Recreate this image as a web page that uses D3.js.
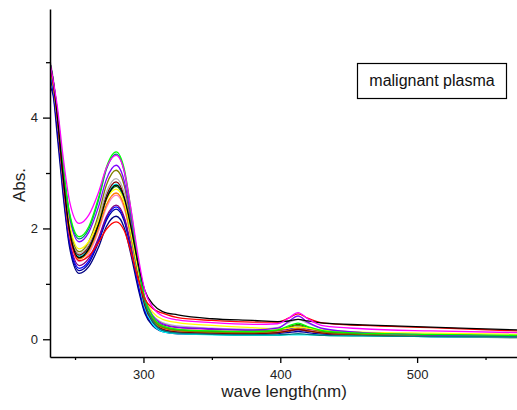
<!DOCTYPE html>
<html>
<head>
<meta charset="utf-8">
<script src="https://cdn.jsdelivr.net/npm/d3@7/dist/d3.min.js"></script>
<style>
  body { margin: 0; background: #fff; }
  svg { display: block; font-family: "Liberation Sans", Arial, sans-serif; }
</style>
</head>
<body>
<div id="chart"></div>
<script>
// sampled wavelengths (nm)
var wavelengths = [232, 234, 237, 241, 246, 253, 260, 267, 273, 280, 286, 291, 296, 301, 307, 314,
                   325, 350, 380, 398, 406, 413, 420, 432, 460, 510, 573];

var lineColors = ["#000080", "#0000a0", "#0000ff", "#800080", "#ff80c0", "#ff8000", "#008000",
                  "#00ffff", "#800000", "#b0b0b0", "#808000", "#ffff00", "#8000ff", "#008080",
                  "#00ff00", "#ff0000", "#000000", "#ff00ff"];

// absorbance, one row per sample (same order as lineColors)
var absorbance = [
  [4.55, 4.40, 3.68, 2.67, 1.66, 1.19, 1.31, 1.65, 2.04, 2.22, 2.01, 1.51, 0.93, 0.47, 0.24, 0.14, 0.10, 0.09, 0.09, 0.12, 0.15, 0.17, 0.15, 0.11, 0.08, 0.06, 0.05],
  [4.70, 4.45, 3.80, 2.76, 1.72, 1.24, 1.37, 1.74, 2.15, 2.35, 2.13, 1.60, 0.99, 0.50, 0.26, 0.15, 0.11, 0.09, 0.08, 0.10, 0.12, 0.14, 0.12, 0.09, 0.07, 0.05, 0.04],
  [4.80, 4.52, 3.89, 2.83, 1.77, 1.28, 1.41, 1.78, 2.19, 2.39, 2.17, 1.64, 1.02, 0.53, 0.29, 0.18, 0.13, 0.11, 0.10, 0.13, 0.18, 0.22, 0.18, 0.12, 0.08, 0.06, 0.05],
  [4.85, 4.57, 3.94, 2.88, 1.82, 1.33, 1.46, 1.82, 2.22, 2.42, 2.20, 1.69, 1.08, 0.61, 0.37, 0.26, 0.21, 0.18, 0.16, 0.16, 0.17, 0.19, 0.17, 0.13, 0.10, 0.08, 0.06],
  [4.90, 4.62, 3.99, 2.94, 1.89, 1.40, 1.54, 1.94, 2.38, 2.60, 2.36, 1.80, 1.14, 0.62, 0.36, 0.24, 0.19, 0.16, 0.14, 0.14, 0.16, 0.18, 0.16, 0.13, 0.10, 0.08, 0.07],
  [4.90, 4.62, 4.00, 2.97, 1.93, 1.45, 1.59, 1.99, 2.43, 2.64, 2.40, 1.81, 1.13, 0.59, 0.32, 0.20, 0.15, 0.12, 0.11, 0.12, 0.15, 0.19, 0.15, 0.11, 0.08, 0.06, 0.05],
  [4.90, 4.62, 4.01, 2.99, 1.96, 1.48, 1.63, 2.06, 2.53, 2.76, 2.51, 1.90, 1.19, 0.63, 0.35, 0.22, 0.17, 0.14, 0.13, 0.16, 0.22, 0.27, 0.22, 0.14, 0.10, 0.08, 0.06],
  [4.85, 4.57, 3.98, 2.97, 1.97, 1.50, 1.66, 2.09, 2.57, 2.80, 2.53, 1.90, 1.15, 0.57, 0.27, 0.14, 0.10, 0.08, 0.07, 0.07, 0.08, 0.08, 0.08, 0.07, 0.06, 0.05, 0.04],
  [4.90, 4.62, 4.02, 3.01, 1.99, 1.52, 1.68, 2.11, 2.60, 2.84, 2.57, 1.94, 1.19, 0.61, 0.31, 0.18, 0.13, 0.11, 0.10, 0.12, 0.15, 0.18, 0.15, 0.11, 0.08, 0.06, 0.05],
  [5.00, 4.72, 4.10, 3.07, 2.03, 1.55, 1.71, 2.16, 2.66, 2.90, 2.64, 2.02, 1.29, 0.72, 0.43, 0.30, 0.24, 0.20, 0.18, 0.21, 0.30, 0.36, 0.29, 0.18, 0.12, 0.06, 0.02],
  [4.90, 4.62, 4.04, 3.04, 2.05, 1.58, 1.76, 2.24, 2.79, 3.05, 2.77, 2.09, 1.30, 0.67, 0.36, 0.22, 0.16, 0.13, 0.12, 0.15, 0.21, 0.25, 0.20, 0.13, 0.09, 0.07, 0.05],
  [4.90, 4.62, 4.05, 3.07, 2.09, 1.63, 1.76, 2.12, 2.52, 2.71, 2.48, 1.91, 1.25, 0.74, 0.48, 0.36, 0.30, 0.25, 0.21, 0.19, 0.20, 0.22, 0.20, 0.16, 0.13, 0.11, 0.09],
  [4.95, 4.67, 4.12, 3.16, 2.21, 1.76, 1.93, 2.38, 2.89, 3.14, 2.85, 2.17, 1.37, 0.74, 0.42, 0.28, 0.22, 0.19, 0.17, 0.20, 0.32, 0.42, 0.31, 0.19, 0.12, 0.08, 0.06],
  [4.95, 4.67, 4.13, 3.19, 2.25, 1.81, 1.99, 2.50, 3.07, 3.34, 3.02, 2.26, 1.37, 0.67, 0.32, 0.16, 0.11, 0.09, 0.08, 0.08, 0.09, 0.10, 0.09, 0.07, 0.06, 0.05, 0.04],
  [4.95, 4.67, 4.14, 3.21, 2.28, 1.85, 2.03, 2.54, 3.11, 3.38, 3.07, 2.31, 1.43, 0.74, 0.40, 0.24, 0.18, 0.15, 0.14, 0.17, 0.24, 0.29, 0.23, 0.15, 0.11, 0.09, 0.07],
  [4.90, 4.62, 4.00, 2.95, 1.91, 1.42, 1.50, 1.74, 1.99, 2.12, 1.96, 1.56, 1.10, 0.73, 0.55, 0.47, 0.39, 0.34, 0.31, 0.31, 0.38, 0.46, 0.38, 0.29, 0.25, 0.21, 0.15],
  [4.95, 4.67, 4.05, 3.00, 1.96, 1.47, 1.63, 2.06, 2.54, 2.78, 2.55, 2.01, 1.38, 0.88, 0.63, 0.50, 0.44, 0.37, 0.34, 0.32, 0.33, 0.36, 0.33, 0.29, 0.26, 0.22, 0.17],
  [4.95, 4.67, 4.21, 3.35, 2.49, 2.09, 2.24, 2.64, 3.10, 3.32, 3.03, 2.33, 1.52, 0.88, 0.57, 0.42, 0.35, 0.30, 0.27, 0.28, 0.38, 0.48, 0.37, 0.24, 0.19, 0.15, 0.12]
];

var yMajorTicks = [0, 2, 4];
var yMinorTicks = [1, 3, 5];
var xMajorTicks = [300, 400, 500];
var xMinorTicks = [250, 350, 450, 550];

var width = 517, height = 410;
var plot = { left: 50, right: 517, top: 9, bottom: 357 };

var svg = d3.select("#chart").append("svg")
    .attr("width", width)
    .attr("height", height);

var x = d3.scaleLinear().domain([231.7, 573]).range([plot.left, plot.right]);
var y = d3.scaleLinear().domain([-0.32, 5.96]).range([plot.bottom, plot.top]);

svg.append("clipPath").attr("id", "clip")
  .append("rect")
    .attr("x", plot.left).attr("y", plot.top)
    .attr("width", plot.right - plot.left).attr("height", plot.bottom - plot.top);

var line = d3.line()
    .x(function (d, i) { return x(wavelengths[i]); })
    .y(function (d) { return y(d); })
    .curve(d3.curveMonotoneX);

svg.append("g").attr("clip-path", "url(#clip)")
  .selectAll("path")
  .data(absorbance)
  .join("path")
    .attr("d", line)
    .attr("fill", "none")
    .attr("stroke", function (d, i) { return lineColors[i]; })
    .attr("stroke-width", 1.3);

// axes
svg.append("g")
    .attr("transform", "translate(" + plot.left + ",0)")
    .call(d3.axisLeft(y).tickValues(yMajorTicks).tickFormat(d3.format("d"))
        .tickSize(7).tickPadding(5).tickSizeOuter(0));
svg.append("g")
    .attr("transform", "translate(" + plot.left + ",0)")
    .call(d3.axisLeft(y).tickValues(yMinorTicks).tickSize(4).tickFormat("").tickSizeOuter(0))
    .select(".domain").remove();

svg.append("g")
    .attr("transform", "translate(0," + plot.bottom + ")")
    .call(d3.axisBottom(x).tickValues(xMajorTicks).tickFormat(d3.format("d"))
        .tickSize(6).tickPadding(7).tickSizeOuter(0));
svg.append("g")
    .attr("transform", "translate(0," + plot.bottom + ")")
    .call(d3.axisBottom(x).tickValues(xMinorTicks).tickSize(3).tickFormat("").tickSizeOuter(0))
    .select(".domain").remove();

svg.selectAll(".domain").attr("stroke-width", 1.5);
svg.selectAll(".tick line").attr("stroke-width", 1.3);
svg.selectAll(".tick text")
    .attr("font-family", "'Liberation Sans', Arial, sans-serif")
    .attr("font-size", "13px")
    .attr("fill", "#222");

// axis titles
svg.append("text")
    .attr("x", 284)
    .attr("y", 397)
    .attr("text-anchor", "middle")
    .attr("font-size", "17px")
    .attr("fill", "#222")
    .text("wave length(nm)");

svg.append("text")
    .attr("transform", "translate(25,185) rotate(-90)")
    .attr("text-anchor", "middle")
    .attr("font-size", "17px")
    .attr("fill", "#222")
    .text("Abs.");

// legend box
var legend = svg.append("g");
legend.append("rect")
    .attr("x", 357.5).attr("y", 63.5)
    .attr("width", 149).attr("height", 35)
    .attr("fill", "#fff")
    .attr("stroke", "#000")
    .attr("stroke-width", 1.2);
legend.append("text")
    .attr("x", 432)
    .attr("y", 86)
    .attr("text-anchor", "middle")
    .attr("font-size", "16px")
    .attr("fill", "#111")
    .text("malignant plasma");
</script>
</body>
</html>
